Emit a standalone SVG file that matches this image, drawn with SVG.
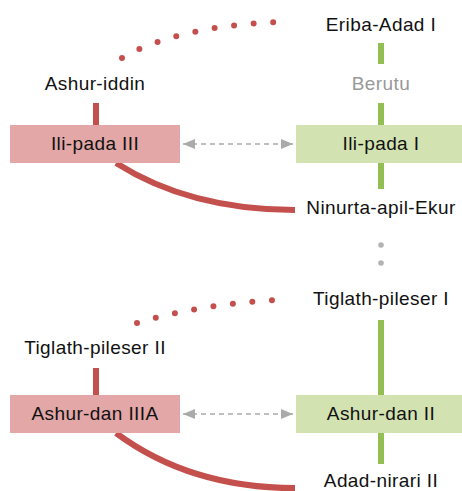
<svg xmlns="http://www.w3.org/2000/svg" width="462" height="491" viewBox="0 0 462 491">
  <defs>
    <style>
      text { font-family: "Liberation Sans", Arial, sans-serif; font-size: 19px; letter-spacing: 0.4px; fill: #111; text-anchor: middle; }
      .muted { fill: #999; }
      .box-red { fill: #e2a7a6; }
      .box-green { fill: #d2e2b1; }
      .stem-red { stroke: #c4504d; stroke-width: 6; fill: none; }
      .stem-green { stroke: #93be52; stroke-width: 6; fill: none; }
      .curve { stroke: #c4504d; stroke-width: 6; fill: none; }
      .dotted { stroke: #c4504d; stroke-width: 6; fill: none; stroke-linecap: round; stroke-dasharray: 0 19.6; }
      .link { stroke: #aaaaaa; stroke-width: 1.5; fill: none; stroke-dasharray: 5 4; marker-start: url(#tip); marker-end: url(#tip); }
      .gap { fill: #b3b3b3; }
    </style>
    <marker id="tip" viewBox="0 0 12 10" refX="12" refY="5" markerWidth="12" markerHeight="10" markerUnits="userSpaceOnUse" orient="auto-start-reverse">
      <path d="M0,0 L12,5 L0,10 Z" fill="#aaaaaa"/>
    </marker>
  </defs>

  <!-- connectors -->
  <g id="connectors">
    <!-- upper pair -->
    <path class="dotted" d="M122,58 Q175,27 276,22"/>
    <line class="stem-red" x1="96" y1="103" x2="96" y2="125"/>
    <path class="curve" d="M116,163 Q190,210 295,210"/>
    <line class="stem-green" x1="381" y1="43" x2="381" y2="64"/>
    <line class="stem-green" x1="381" y1="103" x2="381" y2="125"/>
    <line class="stem-green" x1="381" y1="163" x2="381" y2="189"/>
    <line class="link" x1="183" y1="144" x2="293" y2="144"/>

    <!-- gap in the line -->
    <circle class="gap" cx="381" cy="245" r="2.8"/>
    <circle class="gap" cx="381" cy="263" r="2.8"/>

    <!-- lower pair -->
    <path class="dotted" d="M137,323 Q201,304 276,300"/>
    <line class="stem-red" x1="96" y1="368" x2="96" y2="395"/>
    <path class="curve" d="M116,433 Q190,488 295,488"/>
    <line class="stem-green" x1="381" y1="320" x2="381" y2="395"/>
    <line class="stem-green" x1="381" y1="433" x2="381" y2="464"/>
    <line class="link" x1="183" y1="414" x2="293" y2="414"/>
  </g>

  <!-- upper nodes -->
  <g id="eriba-adad-i"><text x="381" y="31">Eriba-Adad I</text></g>
  <g id="ashur-iddin"><text x="95" y="90">Ashur-iddin</text></g>
  <g id="berutu"><text class="muted" x="381" y="90">Berutu</text></g>
  <g id="ili-pada-iii">
    <rect class="box-red" x="10" y="125" width="170" height="38"/>
    <text x="95" y="150">Ili-pada III</text>
  </g>
  <g id="ili-pada-i">
    <rect class="box-green" x="296" y="125" width="170" height="38"/>
    <text x="381" y="150">Ili-pada I</text>
  </g>
  <g id="ninurta-apil-ekur"><text x="381" y="214">Ninurta-apil-Ekur</text></g>

  <!-- lower nodes -->
  <g id="tiglath-pileser-i"><text x="381" y="305">Tiglath-pileser I</text></g>
  <g id="tiglath-pileser-ii"><text x="95" y="354">Tiglath-pileser II</text></g>
  <g id="ashur-dan-iiia">
    <rect class="box-red" x="10" y="395" width="170" height="38"/>
    <text x="95" y="420">Ashur-dan IIIA</text>
  </g>
  <g id="ashur-dan-ii">
    <rect class="box-green" x="296" y="395" width="170" height="38"/>
    <text x="381" y="420">Ashur-dan II</text>
  </g>
  <g id="adad-nirari-ii"><text x="381" y="487">Adad-nirari II</text></g>
</svg>
